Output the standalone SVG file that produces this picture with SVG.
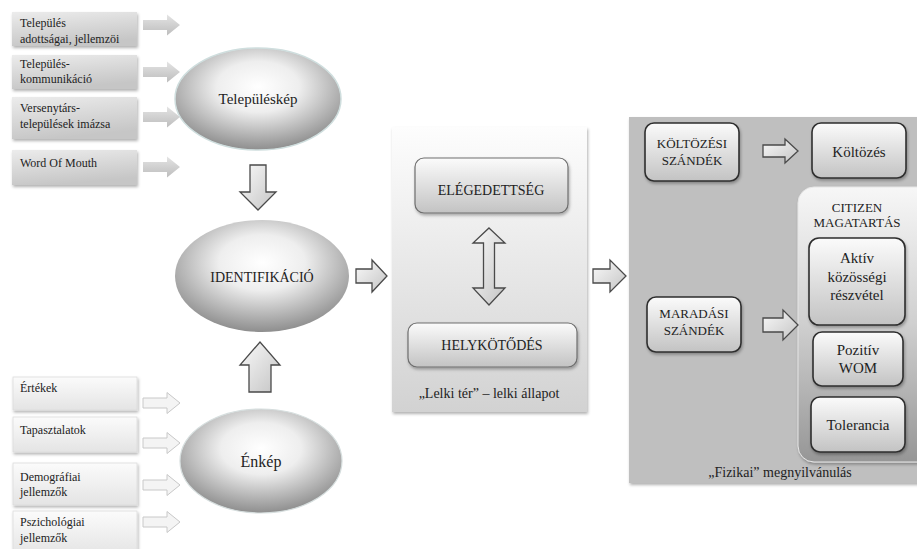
<svg xmlns="http://www.w3.org/2000/svg" width="917" height="549" viewBox="0 0 917 549" font-family="Liberation Serif, serif">
<style>
text{fill:#222;font-family:'Liberation Serif',serif}
.s12{font-size:12px}
.c{text-anchor:middle}
.topbox{fill:url(#gTop);filter:url(#sh)}
.botbox{fill:url(#gBot);stroke:#dcdcdc;stroke-width:0.8;filter:url(#sh)}
.larrow{fill:url(#gLA)}
.barrow{fill:#f4f4f4;stroke:#c8c8c8;stroke-width:1}
.oarrow{fill:url(#gOA);stroke:#4a4a4a;stroke-width:1.3;stroke-linejoin:miter}
.ell{fill:url(#gEll)}
.rbox{fill:url(#gRB);stroke:#6e6e6e;stroke-width:1.2;filter:url(#sh)}
.dbox{fill:url(#gRB);stroke:#2e2e2e;stroke-width:1.6;filter:url(#sh)}
</style>
<defs>
<filter id="sh" x="-10%" y="-10%" width="130%" height="140%"><feDropShadow dx="1" dy="2" stdDeviation="1.5" flood-color="#000" flood-opacity="0.3"/></filter>
<linearGradient id="gTop" x1="0" y1="0" x2="0.3" y2="1"><stop offset="0" stop-color="#ececec"/><stop offset="1" stop-color="#c6c6c6"/></linearGradient>
<linearGradient id="gBot" x1="0" y1="0" x2="0" y2="1"><stop offset="0" stop-color="#fbfbfb"/><stop offset="1" stop-color="#e4e4e4"/></linearGradient>
<linearGradient id="gLA" x1="0" y1="0" x2="0" y2="1"><stop offset="0" stop-color="#e4e4e4"/><stop offset="1" stop-color="#bdbdbd"/></linearGradient>
<linearGradient id="gOA" x1="0" y1="0" x2="1" y2="1"><stop offset="0" stop-color="#fafafa"/><stop offset="1" stop-color="#c4c4c4"/></linearGradient>
<radialGradient id="gEll" cx="0.5" cy="0.38" r="0.62"><stop offset="0" stop-color="#ffffff"/><stop offset="0.4" stop-color="#eeeeee"/><stop offset="1" stop-color="#8e8e8e"/></radialGradient>
<linearGradient id="gRB" x1="0" y1="0" x2="0" y2="1"><stop offset="0" stop-color="#fbfbfb"/><stop offset="1" stop-color="#c3c3c3"/></linearGradient>
<linearGradient id="gMid" x1="0" y1="0" x2="0" y2="1"><stop offset="0" stop-color="#fdfdfd"/><stop offset="1" stop-color="#d2d2d2"/></linearGradient>
<linearGradient id="gCit" x1="0" y1="0" x2="0" y2="1"><stop offset="0" stop-color="#f7f7f7"/><stop offset="0.5" stop-color="#cfcfcf"/><stop offset="1" stop-color="#969696"/></linearGradient>
<path id="la" d="M0,-5 H24 V-10.5 L37,0 L24,10.5 V5 H0 Z"/>
</defs>

<rect width="917" height="549" fill="#fff"/>

<g id="panel-lelki">
<rect x="392" y="127" width="195" height="285" fill="url(#gMid)" filter="url(#sh)"/>
<text x="489" y="398" class="c" font-size="14">„Lelki tér” – lelki állapot</text>
</g>
<g id="panel-fizikai">
<rect x="629" y="117" width="300" height="366" fill="#bfbfbf" filter="url(#sh)"/>
<text x="780" y="477" class="c" font-size="14">„Fizikai” megnyilvánulás</text>
</g>

<g id="n-adottsag"><rect class="topbox" x="12" y="12" width="125" height="34"/>
<text class="s12" x="20" y="27">Település</text><text class="s12" x="20" y="43">adottságai, jellemzöi</text></g>
<g id="n-kommunikacio"><rect class="topbox" x="12" y="55" width="125" height="34"/>
<text class="s12" x="20" y="68">Település-</text><text class="s12" x="20" y="83">kommunikáció</text></g>
<g id="n-versenytars"><rect class="topbox" x="12" y="97" width="125" height="42"/>
<text class="s12" x="20" y="112">Versenytárs-</text><text class="s12" x="20" y="128">települések imázsa</text></g>
<g id="n-wom"><rect class="topbox" x="12" y="150" width="125" height="35"/>
<text class="s12" x="20" y="167">Word Of Mouth</text></g>

<g id="n-ertekek"><rect class="botbox" x="13" y="377" width="124" height="33"/>
<text class="s12" x="20" y="392">Értékek</text></g>
<g id="n-tapasztalatok"><rect class="botbox" x="13" y="417" width="124" height="35"/>
<text class="s12" x="20" y="434">Tapasztalatok</text></g>
<g id="n-demografiai"><rect class="botbox" x="13" y="463" width="124" height="42"/>
<text class="s12" x="20" y="481">Demográfiai</text><text class="s12" x="20" y="496">jellemzők</text></g>
<g id="n-pszichologiai"><rect class="botbox" x="13" y="511" width="124" height="45"/>
<text class="s12" x="20" y="526">Pszichológiai</text><text class="s12" x="20" y="542">jellemzők</text></g>

<g id="n-telepuleskep"><ellipse class="ell" cx="258" cy="99" rx="83" ry="51" stroke="#cfdede" stroke-width="1.5"/>
<text x="258" y="104" class="c" font-size="15">Településkép</text></g>
<g id="n-identifikacio"><ellipse class="ell" cx="262" cy="276" rx="87" ry="56"/>
<text x="262" y="282" class="c" font-size="14">IDENTIFIKÁCIÓ</text></g>
<g id="n-enkep"><ellipse class="ell" cx="261" cy="461" rx="81" ry="52" stroke="#d6dede" stroke-width="1.2"/>
<text x="261" y="467" class="c" font-size="16">Énkép</text></g>

<g id="n-elegedettseg"><rect class="rbox" x="415" y="158" width="153" height="55" rx="9" stroke="#8a8a8a"/>
<text x="491" y="195" class="c" font-size="14">ELÉGEDETTSÉG</text></g>
<g id="n-helykotodes"><rect class="rbox" x="408" y="323" width="169" height="44" rx="9"/>
<text x="492" y="350" class="c" font-size="14">HELYKÖTŐDÉS</text></g>

<g id="n-koltozesi"><rect class="dbox" x="645" y="123" width="94" height="58" rx="9"/>
<text x="692" y="148" class="c" font-size="13">KÖLTÖZÉSI</text><text x="692" y="165" class="c" font-size="13">SZÁNDÉK</text></g>
<g id="n-koltozes"><rect class="dbox" x="812" y="123" width="94" height="55" rx="9"/>
<text x="859" y="157" class="c" font-size="15">Költözés</text></g>
<g id="n-maradasi"><rect class="dbox" x="647" y="297" width="94" height="55" rx="9"/>
<text x="694" y="318" class="c" font-size="13">MARADÁSI</text><text x="694" y="335" class="c" font-size="13">SZÁNDÉK</text></g>
<g id="n-citizen">
<rect x="798" y="187" width="135" height="275" rx="16" fill="url(#gCit)" stroke="#e6e6e6" stroke-width="1" filter="url(#sh)"/>
<text x="857" y="212" class="c" font-size="13">CITIZEN</text><text x="857" y="227" class="c" font-size="13">MAGATARTÁS</text>
<g id="n-aktiv"><rect class="dbox" x="809" y="238" width="96" height="87" rx="10"/>
<text x="857" y="263" class="c" font-size="15">Aktív</text><text x="857" y="282" class="c" font-size="15">közösségi</text><text x="857" y="300" class="c" font-size="15">részvétel</text></g>
<g id="n-pozitiv"><rect class="dbox" x="813" y="332" width="90" height="54" rx="9"/>
<text x="858" y="355" class="c" font-size="15">Pozitív</text><text x="858" y="373" class="c" font-size="15">WOM</text></g>
<g id="n-tolerancia"><rect class="dbox" x="811" y="397" width="94" height="55" rx="9"/>
<text x="858" y="430" class="c" font-size="15">Tolerancia</text></g>
</g>

<g id="connectors">
<use href="#la" class="larrow" x="143" y="25"/>
<use href="#la" class="larrow" x="143" y="72"/>
<use href="#la" class="larrow" x="143" y="117"/>
<use href="#la" class="larrow" x="143" y="167"/>
<use href="#la" class="barrow" x="143" y="403"/>
<use href="#la" class="barrow" x="143" y="443"/>
<use href="#la" class="barrow" x="143" y="485"/>
<use href="#la" class="barrow" x="143" y="522"/>
<path class="oarrow" d="M250,165 H266 V192 H276 L258,210 L240,192 H250 Z"/>
<path class="oarrow" d="M249,392 V365 H240 L260,342 L280,365 H271 V392 Z"/>
<path class="oarrow" d="M356,269 H372 V260 L387,276 L372,292 V283 H356 Z"/>
<path class="oarrow" d="M593,269 H610 V260 L626,276 L610,292 V283 H593 Z"/>
<path class="oarrow" d="M489,228 L505,243 H494.5 V288 H505 L489,305 L473,288 H483.5 V243 H473 Z"/>
<path class="oarrow" d="M763,145 H785 V139 L798,151 L785,163 V157 H763 Z"/>
<path class="oarrow" d="M763,318 H783 V310 L798,325 L783,340 V332 H763 Z"/>
</g>
</svg>
